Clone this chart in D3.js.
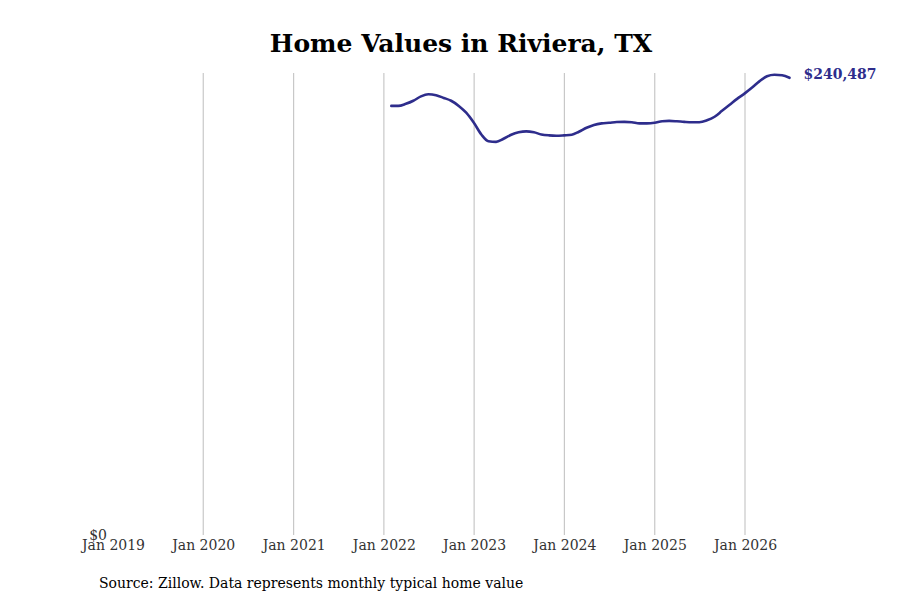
<!DOCTYPE html>
<html>
<head>
<meta charset="utf-8">
<script src="https://cdn.jsdelivr.net/npm/d3@7"></script>
<style>
  body { margin: 0; background: #fff; }
  svg { display: block; font-family: "DejaVu Serif", serif; }
</style>
</head>
<body>
<svg id="chart" width="900" height="600"></svg>
<script>
const title = "Home Values in Riviera, TX";
const sourceText = "Source: Zillow. Data represents monthly typical home value";
const startMonth = "2022-01-31";
const values = [
  225700, 225700, 226800, 228400, 230700, 231800, 231300, 229900, 228400, 225700,
  222100, 216800, 210500, 207100, 206800, 208400, 210500, 211800, 212300, 211800,
  210700, 210200, 210000, 210200, 210500, 212100, 214200, 215700, 216500, 216800,
  217200, 217300, 217100, 216500, 216500, 216800, 217600, 217800, 217600, 217300,
  217100, 217100, 218100, 220000, 223100, 226300, 229400, 232300, 235500, 238600,
  241300, 242100, 241800, 240487
];
const tickYears = [2019, 2020, 2021, 2022, 2023, 2024, 2025, 2026];
const gridYears = [2020, 2021, 2022, 2023, 2024, 2025, 2026];

// build dates: end of each month starting Jan 2022
const start = d3.timeParse("%Y-%m-%d")(startMonth);
const data = values.map((v, i) => {
  const d = new Date(start.getFullYear(), start.getMonth() + i + 1, 0);
  return { date: d, value: v };
});

const svg = d3.select("#chart");
const mLeft = 113, mRight = 789.5, mTop = 73, mBottom = 535;

const x = d3.scaleTime()
  .domain([new Date(2019, 0, 1), new Date(2026, 5, 30)])
  .range([mLeft, mRight]);
const y = d3.scaleLinear()
  .domain([0, 243000])
  .range([mBottom, mTop]);

// gridlines
svg.append("g").selectAll("line")
  .data(gridYears)
  .join("line")
  .attr("x1", d => x(new Date(d, 0, 1)))
  .attr("x2", d => x(new Date(d, 0, 1)))
  .attr("y1", mTop)
  .attr("y2", mBottom)
  .attr("stroke", "#bdbdbd")
  .attr("stroke-width", 1);

// x axis labels
const xAxis = d3.axisBottom(x)
  .tickValues(tickYears.map(yr => new Date(yr, 0, 1)))
  .tickFormat(d3.timeFormat("Jan %Y"))
  .tickSize(0)
  .tickPadding(5);
const gx = svg.append("g")
  .attr("transform", `translate(0,${mBottom})`)
  .call(xAxis);
gx.select(".domain").remove();
gx.selectAll("text")
  .attr("font-family", "DejaVu Serif, serif")
  .attr("font-size", 14)
  .attr("fill", "#333");

// y axis: only $0
const yAxis = d3.axisLeft(y)
  .tickValues([0])
  .tickFormat(d => "$" + d3.format(",")(d))
  .tickSize(0)
  .tickPadding(6);
const gy = svg.append("g")
  .attr("transform", `translate(${mLeft},0)`)
  .call(yAxis);
gy.select(".domain").remove();
gy.selectAll("text")
  .attr("font-family", "DejaVu Serif, serif")
  .attr("font-size", 14)
  .attr("fill", "#333");

// line
const line = d3.line()
  .x(d => x(d.date))
  .y(d => y(d.value))
  .curve(d3.curveMonotoneX);
svg.append("path")
  .datum(data)
  .attr("fill", "none")
  .attr("stroke", "#2e2d8c")
  .attr("stroke-width", 2.6)
  .attr("stroke-linecap", "round")
  .attr("d", line);

// end label
const last = data[data.length - 1];
svg.append("text")
  .attr("x", x(last.date) + 14)
  .attr("y", y(last.value) - 4)
  .attr("dy", "0.35em")
  .attr("font-size", 14)
  .attr("font-weight", "bold")
  .attr("fill", "#2e2d8c")
  .text("$" + d3.format(",")(last.value));

// title
svg.append("text")
  .attr("x", 461)
  .attr("y", 52)
  .attr("text-anchor", "middle")
  .attr("font-size", 25)
  .attr("font-weight", "bold")
  .attr("fill", "#000")
  .text(title);

// source
svg.append("text")
  .attr("x", 99)
  .attr("y", 588)
  .attr("font-size", 14)
  .attr("fill", "#000")
  .text(sourceText);
</script>
</body>
</html>
